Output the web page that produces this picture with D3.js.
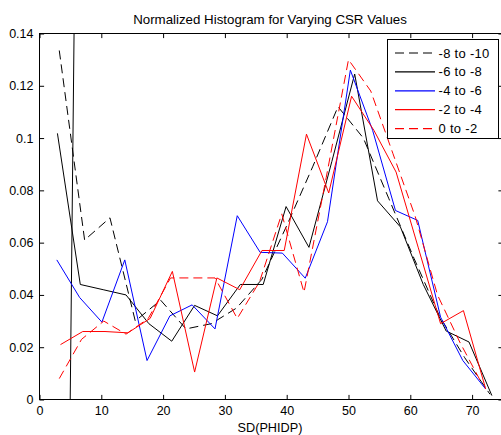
<!DOCTYPE html>
<html>
<head>
<meta charset="utf-8">
<script src="https://cdn.jsdelivr.net/npm/d3@7"></script>
<style>
  body { margin: 0; background: #fff; }
  text { font-family: "Liberation Sans", Arial, sans-serif; fill: #000; }
</style>
</head>
<body>
<svg id="chart" width="501" height="435"></svg>
<script>
      // bin centres (SD of PHIDP) and normalized counts for every CSR range
      var xNeg8to10 = [3.2, 7.3, 11.4, 15.5, 19.6, 23.7, 27.8, 31.9, 36.0, 40.1, 44.2, 48.3, 52.4, 56.5, 60.6, 64.7, 68.8, 72.9];
      var yNeg8to10 = [0.1335, 0.061, 0.0695, 0.030, 0.038, 0.027, 0.029, 0.035, 0.046, 0.067, 0.089, 0.112, 0.100, 0.077, 0.054, 0.032, 0.016, 0.002];

      var xNeg6to8 = [2.9, 6.6, 10.3, 14.0, 17.7, 21.4, 25.1, 28.8, 32.5, 36.2, 39.9, 43.6, 47.3, 51.0, 54.7, 58.4, 62.1, 65.8, 69.5, 73.2];
      var yNeg6to8 = [0.1018, 0.044, 0.042, 0.040, 0.029, 0.0223, 0.036, 0.032, 0.044, 0.044, 0.0738, 0.0582, 0.091, 0.1245, 0.076, 0.066, 0.044, 0.0262, 0.022, 0.0015];

      var xNeg4to6 = [2.8, 6.5, 10.1, 13.8, 17.4, 21.1, 24.7, 28.4, 32.0, 35.7, 39.3, 43.0, 46.6, 50.3, 53.9, 57.6, 61.2, 64.9, 68.5, 72.2];
      var yNeg4to6 = [0.0534, 0.039, 0.0296, 0.0534, 0.0149, 0.032, 0.0362, 0.027, 0.0703, 0.0563, 0.056, 0.0464, 0.068, 0.126, 0.103, 0.0723, 0.0685, 0.0315, 0.0149, 0.004];

      var xNeg2to4 = [3.4, 7.0, 10.6, 14.3, 17.9, 21.5, 25.1, 28.7, 32.4, 36.0, 39.6, 43.2, 46.8, 50.5, 54.1, 57.7, 61.3, 64.9, 68.6, 72.2];
      var yNeg2to4 = [0.021, 0.026, 0.026, 0.0255, 0.031, 0.049, 0.0105, 0.0465, 0.042, 0.057, 0.057, 0.1015, 0.079, 0.116, 0.103, 0.087, 0.058, 0.029, 0.034, 0.004];

      var x0to2 = [3.2, 6.8, 10.4, 14.0, 17.6, 21.2, 24.8, 28.4, 32.0, 35.6, 39.2, 42.8, 46.4, 50.0, 53.6, 57.2, 60.8, 64.4, 68.0, 71.6];
      var y0to2 = [0.008, 0.023, 0.030, 0.025, 0.031, 0.0465, 0.0465, 0.0465, 0.031, 0.045, 0.071, 0.041, 0.085, 0.130, 0.118, 0.094, 0.070, 0.040, 0.022, 0.006];

      // unlabelled steep black line near x = 5 (runs off the top)
      var xSpike = [4.97, 5.6];
      var ySpike = [0, 0.142];

      var seriesNames = ["-8 to -10", "-6 to -8", "-4 to -6", "-2 to -4", "0 to -2"];
      var xTicks = [0, 10, 20, 30, 40, 50, 60, 70];
      var yTicks = [0, 0.02, 0.04, 0.06, 0.08, 0.1, 0.12, 0.14];
      var yTickLabels = ["0", "0.02", "0.04", "0.06", "0.08", "0.1", "0.12", "0.14"];

      var series = [
        { name: seriesNames[0], xs: xNeg8to10, ys: yNeg8to10, color: "#000000", dash: "9,5" },
        { name: seriesNames[1], xs: xNeg6to8, ys: yNeg6to8, color: "#000000", dash: null },
        { name: seriesNames[2], xs: xNeg4to6, ys: yNeg4to6, color: "#0000ff", dash: null },
        { name: seriesNames[3], xs: xNeg2to4, ys: yNeg2to4, color: "#ff0000", dash: null },
        { name: seriesNames[4], xs: x0to2, ys: y0to2, color: "#ff0000", dash: "9,5" }
      ];

      // plot box (right edge runs just past the window, like the original)
      var plotLeft = 39.5, plotRight = 503, plotTop = 33.5, plotBottom = 399.5;
      var svg = d3.select("#chart");

      var x = d3.scaleLinear().domain([0, 75]).range([plotLeft, plotRight]);
      var y = d3.scaleLinear().domain([0, 0.14]).range([plotBottom, plotTop]);
      var tickLen = 4.6;

      svg.append("clipPath").attr("id", "plotClip")
        .append("rect").attr("x", plotLeft).attr("y", plotTop)
        .attr("width", plotRight - plotLeft).attr("height", plotBottom - plotTop);

      // axes: ticks pointing inward on all four sides
      svg.append("g")
        .attr("transform", "translate(0," + plotBottom + ")")
        .call(d3.axisBottom(x).tickValues(xTicks).tickSizeInner(-tickLen).tickSizeOuter(0).tickPadding(7))
        .call(function (g) { g.select(".domain").remove(); })
        .selectAll("text").style("font-size", "12.5px");
      svg.append("g")
        .attr("transform", "translate(0," + plotTop + ")")
        .call(d3.axisTop(x).tickValues(xTicks).tickSizeInner(-tickLen).tickSizeOuter(0).tickFormat(""))
        .call(function (g) { g.select(".domain").remove(); });
      svg.append("g")
        .attr("transform", "translate(" + plotLeft + ",0)")
        .call(d3.axisLeft(y).tickValues(yTicks).tickSizeInner(-tickLen).tickSizeOuter(0).tickPadding(6)
          .tickFormat(function (d, i) { return yTickLabels[i]; }))
        .call(function (g) { g.select(".domain").remove(); })
        .selectAll("text").style("font-size", "12.5px");
      svg.append("g")
        .attr("transform", "translate(" + plotRight + ",0)")
        .call(d3.axisRight(y).tickValues(yTicks).tickSizeInner(-tickLen).tickSizeOuter(0).tickFormat(""))
        .call(function (g) { g.select(".domain").remove(); });

      svg.append("rect")
        .attr("x", plotLeft).attr("y", plotTop)
        .attr("width", plotRight - plotLeft).attr("height", plotBottom - plotTop)
        .attr("fill", "none").attr("stroke", "#000").attr("stroke-width", 1);

      var line = d3.line()
        .x(function (d) { return x(d[0]); })
        .y(function (d) { return y(d[1]); });

      var plot = svg.append("g").attr("clip-path", "url(#plotClip)");

      plot.append("path")
        .attr("d", line(d3.zip(xSpike, ySpike)))
        .attr("fill", "none").attr("stroke", "#000").attr("stroke-width", 1);

      plot.selectAll("path.series")
        .data(series)
        .enter()
        .append("path")
        .attr("class", "series")
        .attr("d", function (d) { return line(d3.zip(d.xs, d.ys)); })
        .attr("fill", "none")
        .attr("stroke", function (d) { return d.color; })
        .attr("stroke-width", 1)
        .attr("stroke-dasharray", function (d) { return d.dash; });

      // title and x label
      svg.append("text").attr("x", 270).attr("y", 24).attr("text-anchor", "middle")
        .style("font-size", "13.3px").text("Normalized Histogram for Varying CSR Values");
      svg.append("text").attr("x", 270).attr("y", 432).attr("text-anchor", "middle")
        .style("font-size", "12.7px").text("SD(PHIDP)");

      // legend
      var legend = svg.append("g");
      legend.append("rect")
        .attr("x", 387.5).attr("y", 39.5).attr("width", 111).attr("height", 99)
        .attr("fill", "#fff").attr("stroke", "#000").attr("stroke-width", 1);
      var rows = legend.selectAll("g.row")
        .data(series)
        .enter()
        .append("g")
        .attr("class", "row")
        .attr("transform", function (d, i) { return "translate(0," + (53 + i * 18.9) + ")"; });
      rows.append("line")
        .attr("x1", 395).attr("x2", 435).attr("y1", 0).attr("y2", 0)
        .attr("stroke", function (d) { return d.color; })
        .attr("stroke-width", 1.2)
        .attr("stroke-dasharray", function (d) { return d.dash; });
      rows.append("text")
        .attr("x", 438.5).attr("y", 0).attr("dy", "0.35em")
        .style("font-size", "13px")
        .style("letter-spacing", "0.3px")
        .text(function (d) { return d.name; });
</script>
</body>
</html>
